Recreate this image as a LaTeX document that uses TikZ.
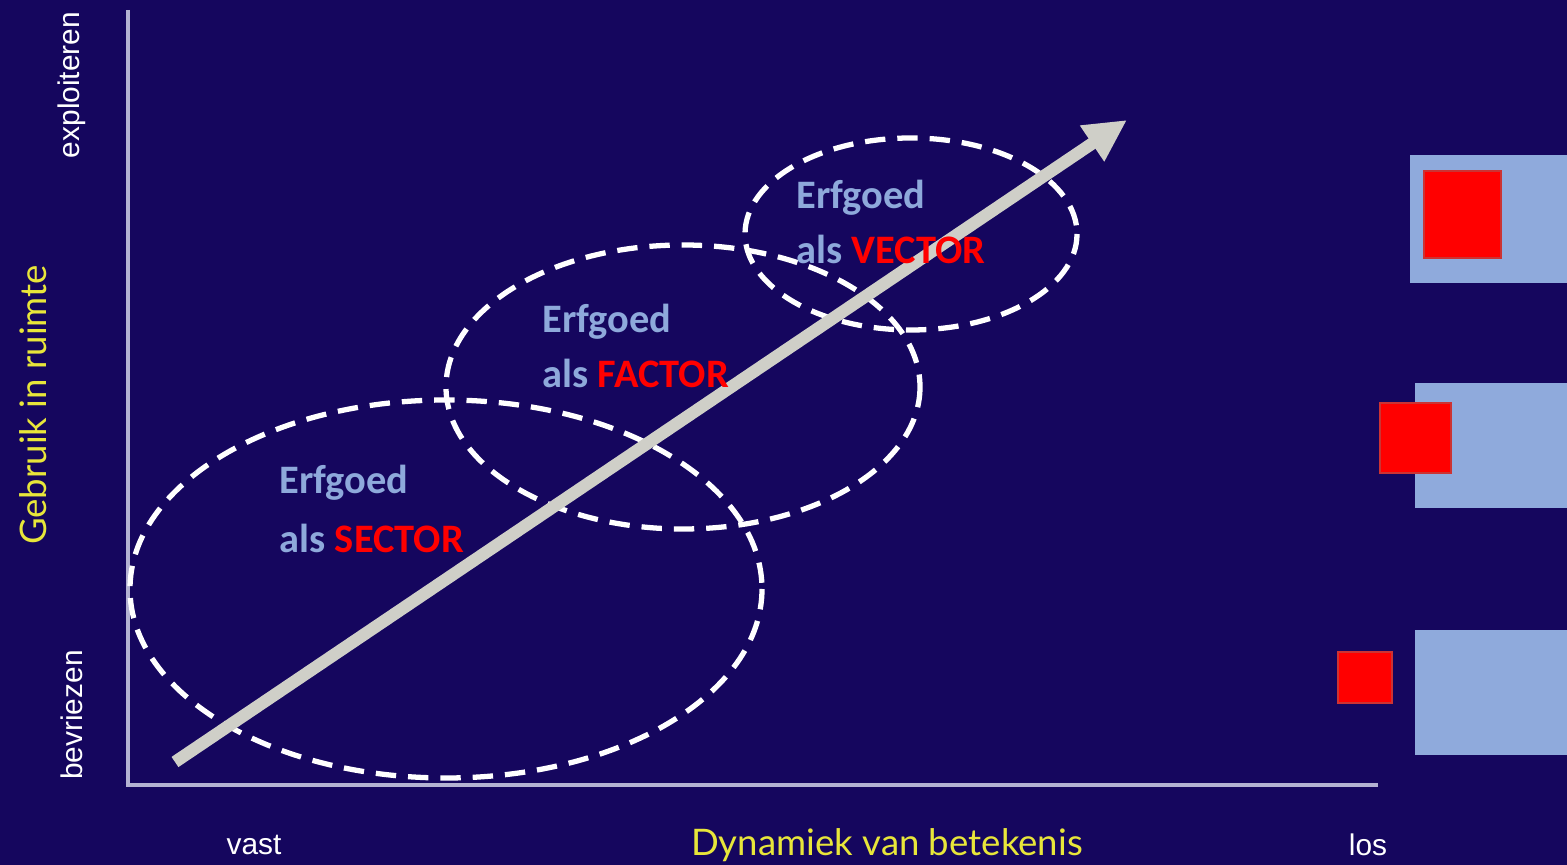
\documentclass[tikz,border=0pt]{standalone}
\usepackage{fontspec}
\setmainfont{Liberation Sans}
\newfontfamily\calib{Carlito}
\newfontfamily\gill{Lato}
\usetikzlibrary{arrows.meta}
\definecolor{bgnavy}{HTML}{15065E}
\definecolor{axisgray}{HTML}{B4B2D2}
\definecolor{arrowgray}{HTML}{CFCFC8}
\definecolor{lblue}{HTML}{8FAADC}
\definecolor{txtblue}{HTML}{8EA9DB}
\definecolor{axyellow}{HTML}{E8E63A}
\tikzset{
  axisline/.style={draw=axisgray, line width=1.2pt},
  zone/.style={draw=white, line width=1.5pt, dash pattern=on 5.8pt off 3.4pt},
  zonetext/.style={anchor=west, inner sep=0pt, font=\calib\bfseries\fontsize{11.5}{13}\selectfont, text=txtblue},
  small/.style={font=\fontsize{8.5}{10}\selectfont, text=white, inner sep=0pt},
  axtitle/.style={font=\gill\fontsize{10.4}{12}\selectfont, text=axyellow, inner sep=0pt},
  panel/.style={fill=lblue, draw=none},
  redsq/.style={fill=red, draw=red!60!gray, line width=0.4pt},
  bigarrow/.style={draw=arrowgray, line width=3.5pt, -{Triangle[length=12pt,width=11.5pt]}},
}
\begin{document}
\begin{tikzpicture}[x=0.01cm,y=-0.01cm]
\fill[bgnavy] (0,0) rectangle (1567,865);
\useasboundingbox (0,0) rectangle (1567,865);
% axes
\coordinate (ytop) at (128,10);
\coordinate (orig) at (128,785);
\coordinate (xend) at (1378,785);
\draw[axisline] (ytop) -- (orig) -- (xend);
% zones
\coordinate (c1) at (446,589);
\coordinate (c2) at (683,387);
\coordinate (c3) at (911,234);
\draw[zone] (c1) ellipse [x radius=316, y radius=189];
\draw[zone] (c2) ellipse [x radius=237, y radius=142];
\draw[zone] (c3) ellipse [x radius=166, y radius=96];
% big arrow
\coordinate (astart) at (175,762);
\coordinate (aend) at (1127,120);
\draw[bigarrow] (astart) -- (aend);
% zone texts
\node[zonetext] (s1) at (279,483) {Erfgoed};
\node[zonetext] (s2) at (279,538) {als \textcolor{red}{SECTOR}};
\node[zonetext] (f1) at (542,322) {Erfgoed};
\node[zonetext] (f2) at (542,373) {als \textcolor{red}{FACTOR}};
\node[zonetext] (v1) at (796,198) {Erfgoed};
\node[zonetext] (v2) at (796,249) {als \textcolor{red}{VECTOR}};
% axis labels
\node[small, rotate=90] (expl) at (72,85) {exploiteren};
\node[small, rotate=90] (bevr) at (72,715) {bevriezen};
\node[axtitle, rotate=90] (gebr) at (33,405) {Gebruik in ruimte};
\node[small] (vast) at (254,845) {vast};
\node[small] (los) at (1368,845) {los};
\node[axtitle] (dyn) at (887,845) {Dynamiek van betekenis};
% right panels
\fill[panel] (1410,155) rectangle (1567,283);
\fill[panel] (1415,383) rectangle (1567,508);
\fill[panel] (1415,630) rectangle (1567,755);
\draw[redsq] (1424,171) rectangle (1501,258);
\draw[redsq] (1380,403) rectangle (1451,473);
\draw[redsq] (1338,652) rectangle (1392,703);
\end{tikzpicture}
\end{document}
